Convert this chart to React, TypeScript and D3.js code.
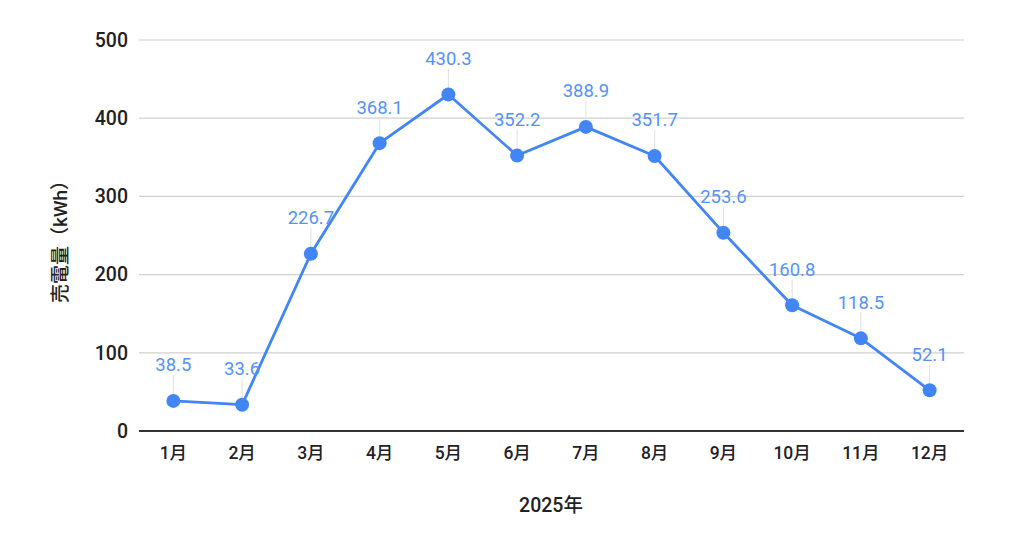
import React from "react";
import * as d3 from "d3";

const months = ["1月", "2月", "3月", "4月", "5月", "6月", "7月", "8月", "9月", "10月", "11月", "12月"];
const values = [38.5, 33.6, 226.7, 368.1, 430.3, 352.2, 388.9, 351.7, 253.6, 160.8, 118.5, 52.1];
const yTicks = [0, 100, 200, 300, 400, 500];
const xTitle = "2025年";
const yTitle = "売電量（kWh）";

const W = 1024;
const H = 538;
const FONT = "Roboto, 'Noto Sans CJK JP', sans-serif";

export default function App() {
  const x = d3.scaleBand<string>().domain(months).range([139, 964]);
  const y = d3.scaleLinear().domain([0, 500]).range([431, 40]);
  const cx = (m: string) => (x(m) ?? 0) + x.bandwidth() / 2;
  const line = d3
    .line<number>()
    .x((_, i) => cx(months[i]))
    .y((d) => y(d));

  return (
    <svg
      width={W}
      height={H}
      style={{ position: "absolute", left: 0, top: 0, background: "#fff" }}
      fontFamily={FONT}
    >
      {yTicks.map((t) => (
        <g key={t}>
          {t !== 0 && (
            <line x1={139} x2={964} y1={y(t)} y2={y(t)} stroke="#d0d0d0" strokeWidth={1.2} />
          )}
          <text x={128} y={y(t)} dy="0.35em" textAnchor="end" fontSize={19.5} fontWeight={500} fill="#222">
            {t}
          </text>
        </g>
      ))}
      {values.map((v, i) => (
        <line
          key={"l" + i}
          x1={cx(months[i])}
          x2={cx(months[i])}
          y1={y(v) - 26}
          y2={y(v) - 6}
          stroke="#e0e0e0"
          strokeWidth={1}
        />
      ))}
      <line x1={139} x2={964} y1={y(0)} y2={y(0)} stroke="#333" strokeWidth={1.8} />
      {months.map((m) => (
        <text key={m} x={cx(m)} y={453} textAnchor="middle" fontSize={17.5} fontWeight={500} fill="#222" dy="0.35em">
          {m}
        </text>
      ))}
      <path d={line(values) ?? ""} fill="none" stroke="#4285F4" strokeWidth={2.8} strokeLinejoin="round" />
      {values.map((v, i) => (
        <circle key={"c" + i} cx={cx(months[i])} cy={y(v)} r={7} fill="#4285F4" />
      ))}
      {values.map((v, i) => (
        <text
          key={"t" + i}
          x={cx(months[i])}
          y={y(v) - 36}
          dy="0.35em"
          textAnchor="middle"
          fontSize={18.5}
          fill="#5592f6"
        >
          {v.toFixed(1)}
        </text>
      ))}
      <text x={551} y={505} dy="0.35em" textAnchor="middle" fontSize={19.5} fontWeight={500} fill="#222">
        {xTitle}
      </text>
      <text
        transform={`translate(60,237) rotate(-90)`}
        dy="0.35em"
        textAnchor="middle"
        fontSize={19}
        fontWeight={500}
        fill="#222"
      >
        {yTitle}
      </text>
    </svg>
  );
}
